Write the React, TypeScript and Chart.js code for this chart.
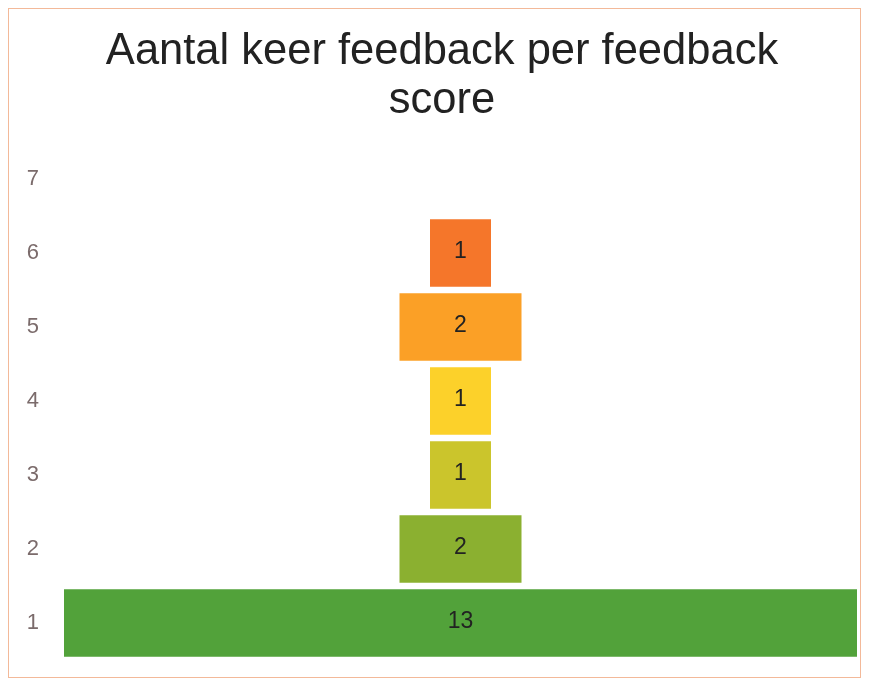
import React, { useEffect, useRef } from "react";
import { Chart, registerables } from "chart.js";

Chart.register(...registerables);

const categories = ["1", "2", "3", "4", "5", "6", "7"];
const counts = [13, 2, 1, 1, 2, 1, 0];
const barColors = ["#52a23a", "#8bb030", "#cbc52c", "#fcd12a", "#fba026", "#f5762a", "#f5762a"];
const titleLines = ["Aantal keer feedback per feedback", "score"];
const maxCount = 13;

const FONT = "'Liberation Sans', Arial, sans-serif";

const valueLabels = {
  id: "valueLabels",
  afterDatasetsDraw(chart: any) {
    const ctx = chart.ctx;
    const meta = chart.getDatasetMeta(0);
    ctx.save();
    ctx.font = "23px " + FONT;
    ctx.fillStyle = "#222222";
    ctx.textAlign = "center";
    ctx.textBaseline = "middle";
    meta.data.forEach((el: any, i: number) => {
      const v = counts[i];
      if (!v) return;
      const cx = (el.x + el.base) / 2;
      ctx.fillText(String(v), cx, el.y - 1);
    });
    ctx.restore();
  },
};

export default function App() {
  const ref = useRef<HTMLCanvasElement | null>(null);
  useEffect(() => {
    if (!ref.current) return;
    const chart = new Chart(ref.current, {
      type: "bar",
      data: {
        labels: categories,
        datasets: [
          {
            data: counts.map((v) => [-v / 2, v / 2]) as any,
            backgroundColor: barColors,
            borderWidth: 0,
            barPercentage: 0.91,
            categoryPercentage: 1,
          },
        ],
      },
      options: {
        indexAxis: "y",
        animation: false,
        responsive: false,
        layout: { padding: { top: 0, left: 18, right: 3, bottom: 17 } },
        plugins: {
          legend: { display: false },
          tooltip: { enabled: false },
          title: {
            display: true,
            text: titleLines,
            color: "#222222",
            font: { size: 43.5, family: FONT, weight: "normal", lineHeight: "49px" },
            padding: { top: 18, bottom: 17 },
          },
        },
        scales: {
          x: {
            display: false,
            min: -maxCount / 2,
            max: maxCount / 2,
          },
          y: {
            reverse: true,
            grid: { display: false, drawTicks: false },
            border: { display: false },
            afterFit: (scale: any) => {
              scale.width = 37;
              scale.paddingTop = 0;
              scale.paddingBottom = 0;
            },
            ticks: {
              color: "#7b6b6b",
              padding: 25,
              font: { size: 22, family: FONT },
            },
          },
        },
      },
      plugins: [valueLabels],
    });
    return () => chart.destroy();
  }, []);
  return (
    <div
      style={{
        width: 853,
        height: 670,
        boxSizing: "border-box",
        border: "1px solid #f3b999",
        position: "relative",
        background: "#ffffff",
      }}
    >
      <canvas ref={ref} width={851} height={668} style={{ display: "block" }} />
    </div>
  );
}
